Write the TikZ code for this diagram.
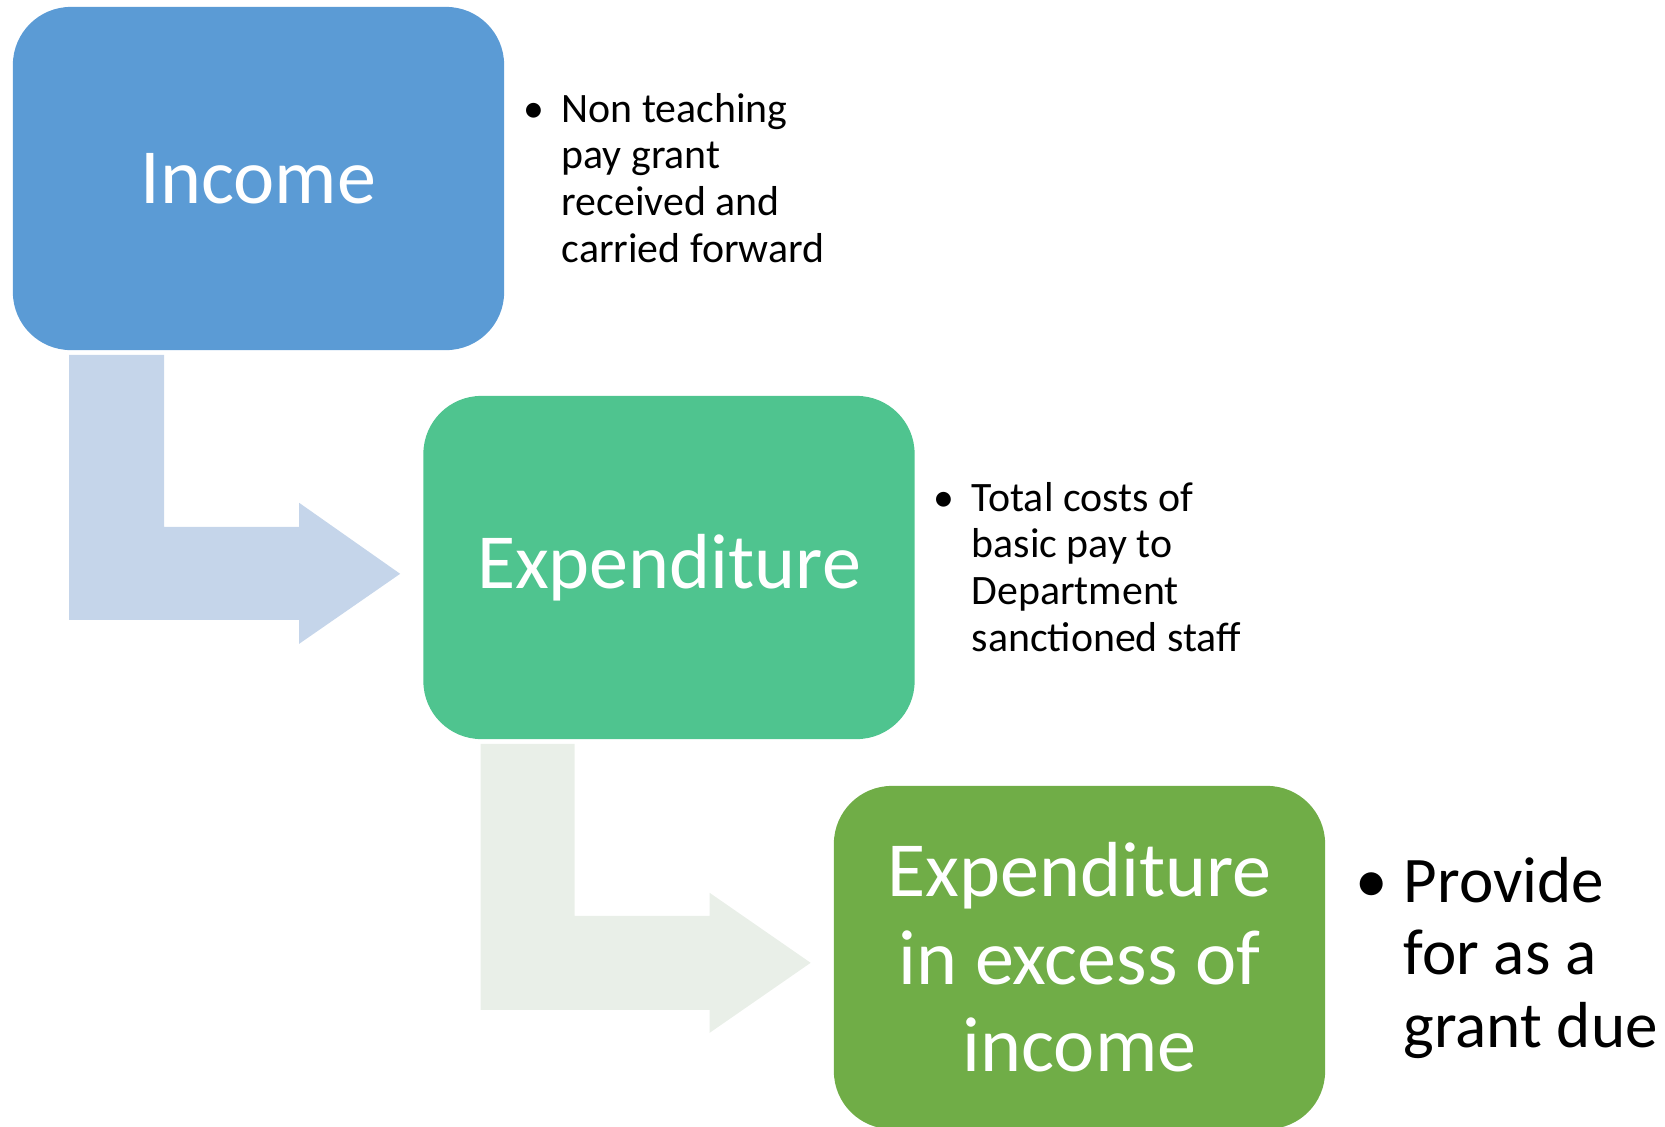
\documentclass[tikz,border=0pt]{standalone}
\usepackage{fontspec}
\setmainfont{Carlito}

\definecolor{incblue}{HTML}{5B9BD5}
\definecolor{expgreen}{HTML}{4FC48F}
\definecolor{excgreen}{HTML}{70AD47}
\definecolor{arrblue}{HTML}{C5D5EA}
\definecolor{arrgrey}{HTML}{E9EFE8}

\begin{document}
\begin{tikzpicture}[x=0.01cm,y=-0.01cm,
  box/.style={rounded corners=5.8mm, minimum width=4.91cm, minimum height=3.43cm,
    inner sep=0pt, text=white, align=center, font=\fontsize{22.2}{24.9}\selectfont},
  note/.style={anchor=base west, inner sep=0pt, font=\fontsize{11.9}{13.3}\selectfont},
  bignote/.style={anchor=base west, inner sep=0pt, font=\fontsize{18.5}{20.7}\selectfont}]
  \useasboundingbox (0,0) rectangle (1665,1126);

  % Cajas
  \node[box, fill=incblue] (inc) at (258.5,178.5) {Income};
  \node[box, fill=expgreen] (exp) at (669,567.5) {Expenditure};
  \node[box, fill=excgreen] (exc) at (1079.5,957.5) {Expenditure\\in excess of\\income};

  % Flechas
  \begin{scope}[shift={(inc.south west)}]
    \fill[arrblue] (57,4) -- (152,4) -- (152,176) -- (287,176) -- (287,152) -- (388,223)
      -- (287,293) -- (287,269) -- (57,269) -- cycle;
  \end{scope}
  \begin{scope}[shift={(exp.south west)}]
    \fill[arrgrey] (58,4) -- (152,4) -- (152,176) -- (287,176) -- (287,153) -- (388,223)
      -- (287,293) -- (287,270) -- (58,270) -- cycle;
  \end{scope}

  % Notas
  \node[note] (incnote) at (523,122) {\begin{tabular}[t]{@{}l@{}l@{}}
    \makebox[3.8mm][l]{\textbullet} & Non teaching\\
    & pay grant\\
    & received and\\
    & carried forward
  \end{tabular}};
  \node[note] (expnote) at (933,511) {\begin{tabular}[t]{@{}l@{}l@{}}
    \makebox[3.8mm][l]{\textbullet} & Total costs of\\
    & basic pay to\\
    & Department\\
    & sanctioned staff
  \end{tabular}};
  \node[bignote] (excnote) at (1355,902) {\begin{tabular}[t]{@{}l@{}l@{}}
    \makebox[4.8mm][l]{\textbullet} & Provide\\
    & for as a\\
    & grant due
  \end{tabular}};

\end{tikzpicture}
\end{document}
